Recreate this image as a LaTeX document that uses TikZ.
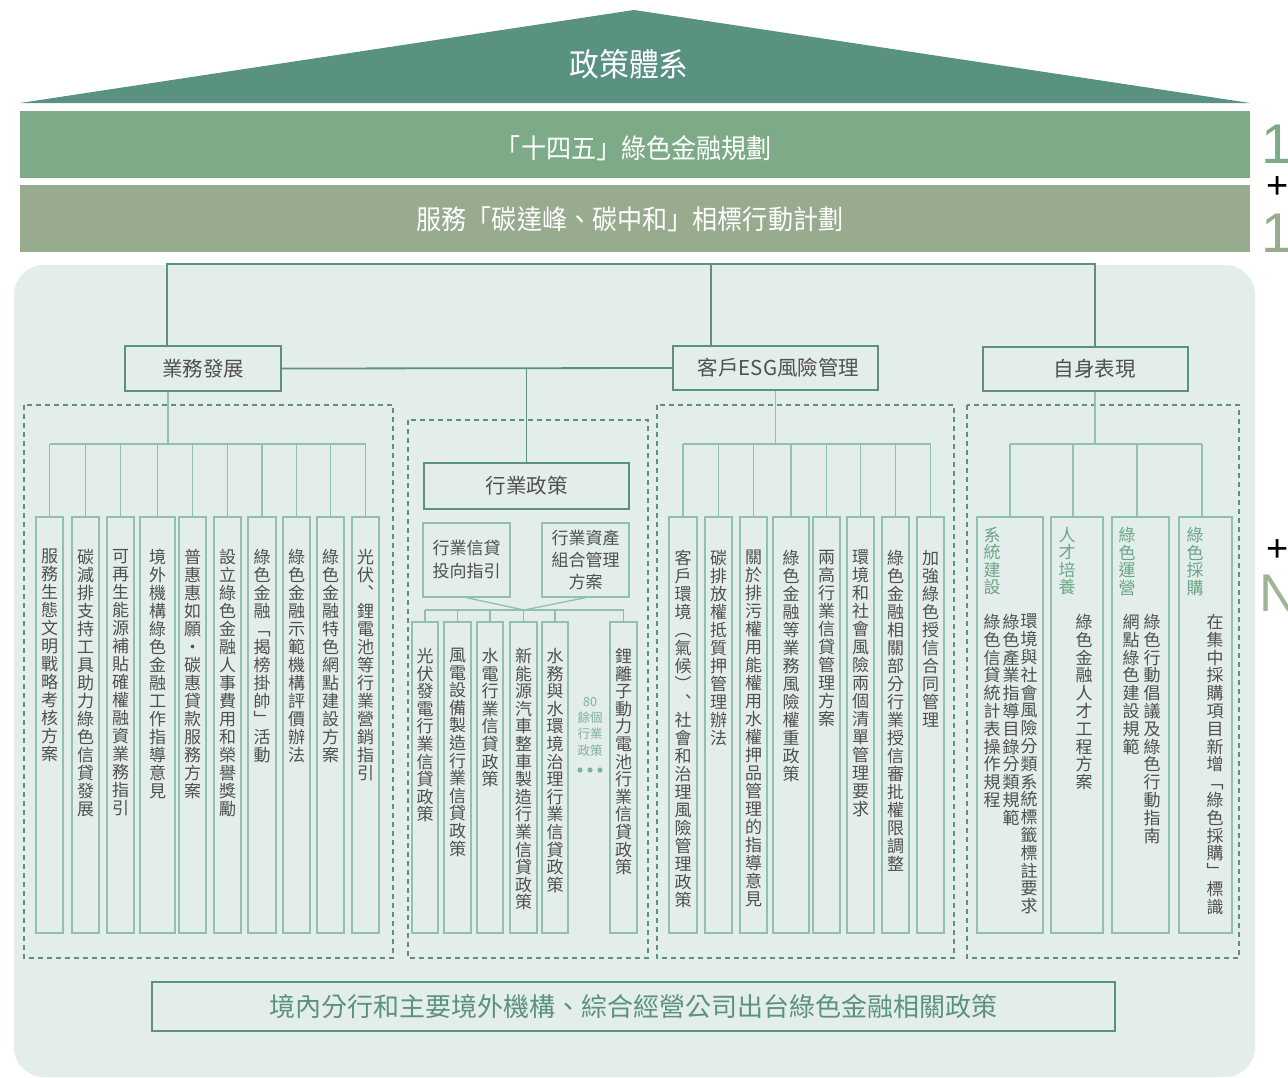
\documentclass[tikz,border=0pt]{standalone}
\usepackage{fontspec}
\setmainfont{Noto Sans CJK TC}
\newfontfamily\cjk{Noto Sans CJK TC}
\newfontfamily\cjkc{Noto Sans CJK TC}[FakeStretch=0.93]
\newfontfamily\numf{Liberation Sans}
\definecolor{roof}{RGB}{90,146,130}
\definecolor{bandA}{RGB}{125,171,135}
\definecolor{bandB}{RGB}{152,171,143}
\definecolor{bgc}{RGB}{227,237,235}
\definecolor{dk}{RGB}{91,145,131}
\definecolor{lt}{RGB}{143,192,176}
\definecolor{txt}{RGB}{80,80,80}
\definecolor{acc}{RGB}{107,165,135}
\definecolor{lacc}{RGB}{125,178,155}
\definecolor{nclr}{RGB}{160,180,150}
\ExplSyntaxOn
\NewDocumentCommand\vt{O{18pt}m}{
  \vbox{\baselineskip=#1\relax\lineskip=0pt\lineskiplimit=-100pt
    \tl_map_inline:nn {#2}{\hbox_to_wd:nn{1em}{\hss##1\hss}}}
}
\ExplSyntaxOff
\newcommand\VB[8][18pt]{%
  \node[subbox, minimum width={(#4-#3)*1pt}, minimum height={(#6-#5)*1pt}] (#2) at ({(#3+#4)/2},{(#5+#6)/2}) {};
  \node[vtxt] (#2t) at ({(#3+#4)/2},#7) {\vt[#1]{#8}};
}
\begin{document}
\begin{tikzpicture}[x=1pt,y=-1pt,
  dkline/.style={draw=dk, line width=1.8pt},
  ltline/.style={draw=lt, line width=1.3pt},
  mainbox/.style={draw=dk, line width=1.8pt, inner sep=0pt, text=txt, font=\cjk\fontsize{20.5}{24}\selectfont},
  subbox/.style={draw=lt, line width=1.3pt, inner sep=0pt},
  vtxt/.style={anchor=north, inner sep=0pt, text=txt, font=\cjk\fontsize{17}{18}\selectfont},
  vtitle/.style={anchor=north, inner sep=0pt, text=acc, font=\cjk\fontsize{17}{18}\selectfont},
  dbox/.style={draw=dk, line width=1.4pt, dash pattern=on 5pt off 4pt},
  bandtxt/.style={text=white, font=\cjkc\fontsize{27}{30}\selectfont, inner sep=0pt},
]
\useasboundingbox (0,0) rectangle (1288,1077);
\clip (0,0) rectangle (1288,1077);
% header
\fill[roof] (20,103) -- (634,10) -- (1250,103) -- cycle;
\node[bandtxt, font=\cjkc\fontsize{32}{34}\selectfont] (title) at (629,64) {政策體系};
\fill[bandA] (20,111) rectangle (1250,178);
\node[bandtxt] (b1) at (634,148) {「十四五」綠色金融規劃};
\fill[bandB] (20,185) rectangle (1250,252);
\node[bandtxt] (b2) at (630,219) {服務「碳達峰、碳中和」相標行動計劃};
% right cut-off labels
\node[anchor=base west, inner sep=0pt, text=bandA, font=\numf\fontsize{56}{56}\selectfont] (one1) at (1261,163) {1};
\node[anchor=base, inner sep=0pt, text=black, font=\numf\fontsize{38}{38}\selectfont] (plus1) at (1278,198) {+};
\node[anchor=base west, inner sep=0pt, text=bandB, font=\numf\fontsize{56}{56}\selectfont] (one2) at (1261,252) {1};
\node[anchor=base, inner sep=0pt, text=black, font=\numf\fontsize{38}{38}\selectfont] (plus2) at (1278,561) {+};
\node[anchor=base west, inner sep=0pt, text=nclr, font=\numf\fontsize{53}{53}\selectfont] (nn) at (1259,611) {N};
% background
\fill[bgc, rounded corners=30pt] (14,265) rectangle (1255,1077);
% main boxes
\node[mainbox, minimum width=156pt, minimum height=45pt] (yw) at (203,368.5) {業務發展};
\node[mainbox, minimum width=205pt, minimum height=44pt] (kh) at (775.5,368) {\hspace*{6pt}客戶ESG風險管理};
\node[mainbox, minimum width=205pt, minimum height=44pt] (zs) at (1085.5,369) {\hspace*{18pt}自身表現};
% top connectors
\coordinate (topL) at (167,264);
\coordinate (topM) at (711,264);
\coordinate (topR) at (1095,264);
\draw[dkline] (topL |- yw.north) -- (topL) -- (topR) -- (topR |- zs.north);
\draw[dkline] (topM) -- (topM |- kh.north);
\draw[dkline] (yw.east) -- (kh.west);
% dashed groups
\draw[dbox] (24,405) rectangle (393,958);
\draw[dbox] (408,420) rectangle (648,958);
\draw[dbox] (657,405) rectangle (954,958);
\draw[dbox] (967,405) rectangle (1239,958);
% ---------- left group
\VB{L1}{36}{63}{517}{933}{549}{服務生態文明戰略考核方案}
\VB{L2}{72}{99}{517}{933}{549}{碳減排支持工具助力綠色信貸發展}
\VB{L3}{107}{134}{517}{933}{549}{可再生能源補貼確權融資業務指引}
\VB{L4}{140}{175}{517}{933}{549}{境外機構綠色金融工作指導意見}
\VB{L5}{179}{206}{517}{933}{549}{普惠惠如願・碳惠貸款服務方案}
\VB{L6}{214}{241}{517}{933}{549}{設立綠色金融人事費用和榮譽獎勵}
\VB{L7}{248}{276}{517}{933}{549}{綠色金融﹁揭榜掛帥﹂活動}
\VB{L8}{283}{310}{517}{933}{549}{綠色金融示範機構評價辦法}
\VB{L9}{317}{344}{517}{933}{549}{綠色金融特色網點建設方案}
\VB{L10}{352}{379}{517}{933}{549}{光伏︑鋰電池等行業營銷指引}
\coordinate (busL) at (168,444);
\draw[ltline] (busL |- yw.south) -- (busL);
\draw[ltline] (L1.north |- busL) -- (L10.north |- busL);
\foreach \n in {L1,L2,L3,L4,L5,L6,L7,L8,L9,L10}
  \draw[ltline] (\n.north) -- (\n.north |- busL);
% ---------- middle group
\node[mainbox, minimum width=205pt, minimum height=46pt] (hy) at (526.5,486) {行業政策};
\draw[dkline] (hy.north |- yw.east) -- (hy.north);
\node[subbox, minimum width=87pt, minimum height=74pt, text=txt, align=center, font=\cjk\fontsize{17}{23}\selectfont] (mz1) at (466.5,560) {行業信貸\\投向指引};
\node[subbox, minimum width=87pt, minimum height=74pt, text=txt, align=center, font=\cjk\fontsize{17}{22}\selectfont] (mz2) at (585.5,560) {行業資產\\組合管理\\方案};
\coordinate (mconv) at (524,610);
\draw[ltline] (mz1.south) -- (mconv) -- (mz2.south);
\VB[17.6pt]{M1}{412}{438}{622}{933}{648}{光伏發電行業信貸政策}
\VB[17.6pt]{M2}{444}{471}{622}{933}{648}{風電設備製造行業信貸政策}
\VB[17.6pt]{M3}{477}{503}{622}{933}{648}{水電行業信貸政策}
\VB[17.6pt]{M4}{510}{537}{622}{933}{648}{新能源汽車整車製造行業信貸政策}
\VB[17.6pt]{M5}{542}{568}{622}{933}{648}{水務與水環境治理行業信貸政策}
\VB[17.6pt]{M6}{610}{637}{622}{933}{648}{鋰離子動力電池行業信貸政策}
\draw[ltline] (M1.north |- mconv) -- (M6.north |- mconv);
\foreach \n in {M1,M2,M3,M4,M5,M6}
  \draw[ltline] (\n.north) -- (\n.north |- mconv);
\node[inner sep=0pt, text=lacc, align=center, font=\cjk\fontsize{12.5}{16.3}\selectfont, anchor=north] (more) at (590,697) {80\\餘個\\行業\\政策};
\foreach \i/\xx in {1/580,2/590,3/600}
  \fill[lacc] (\xx,770) circle (2.6pt);
% ---------- third group
\VB{C1}{669}{697}{517}{933}{550}{客戶環境︵氣候︶︑社會和治理風險管理政策}
\VB{C2}{705}{732}{517}{933}{550}{碳排放權抵質押管理辦法}
\VB{C3}{740}{767}{517}{933}{550}{關於排污權用能權用水權押品管理的指導意見}
\VB{C4}{773}{809}{517}{933}{550}{綠色金融等業務風險權重政策}
\VB{C5}{813}{840}{517}{933}{550}{兩高行業信貸管理方案}
\VB{C6}{847}{874}{517}{933}{550}{環境和社會風險兩個清單管理要求}
\VB{C7}{882}{909}{517}{933}{550}{綠色金融相關部分行業授信審批權限調整}
\VB{C8}{917}{944}{517}{933}{550}{加強綠色授信合同管理}
\coordinate (busC) at (kh.south |- 0,444);
\draw[ltline] (kh.south) -- (busC);
\draw[ltline] (C1.north |- busC) -- (C8.north |- busC);
\foreach \n in {C1,C2,C3,C4,C5,C6,C7,C8}
  \draw[ltline] (\n.north) -- (\n.north |- busC);
% ---------- fourth group
\node[subbox, minimum width=66pt, minimum height=416pt] (R1) at (1010,725) {};
\node[subbox, minimum width=52pt, minimum height=416pt] (R2) at (1077,725) {};
\node[subbox, minimum width=57pt, minimum height=416pt] (R3) at (1140.5,725) {};
\node[subbox, minimum width=53pt, minimum height=416pt] (R4) at (1205.5,725) {};
\node[vtitle] (R1h) at (992,527) {\vt[17.5pt]{系統建設}};
\node[vtitle] (R2h) at (1067,527) {\vt[17.5pt]{人才培養}};
\node[vtitle] (R3h) at (1127,527) {\vt[17.5pt]{綠色運營}};
\node[vtitle] (R4h) at (1195,527) {\vt[17.5pt]{綠色採購}};
\node[vtxt] (R1a) at (1029,614) {\vt[17.8pt]{環境與社會風險分類系統標籤標註要求}};
\node[vtxt] (R1b) at (1011,614) {\vt[17.8pt]{綠色產業指導目錄分類規範}};
\node[vtxt] (R1c) at (992,614) {\vt[17.8pt]{綠色信貸統計表操作規程}};
\node[vtxt] (R2a) at (1084,614) {\vt[17.8pt]{綠色金融人才工程方案}};
\node[vtxt] (R3a) at (1152,614) {\vt[17.8pt]{綠色行動倡議及綠色行動指南}};
\node[vtxt] (R3b) at (1131,614) {\vt[17.8pt]{網點綠色建設規範}};
\node[vtxt] (R4a) at (1215,614) {\vt[17.8pt]{在集中採購項目新增﹁綠色採購﹂標識}};
\coordinate (busR) at (1095,444);
\draw[ltline] (busR |- zs.south) -- (busR);
\draw[ltline] (1010,444) -- (1202,444);
\draw[ltline] (R1.north -| 1010,0) -- (1010,444);
\draw[ltline] (R2.north -| 1073,0) -- (1073,444);
\draw[ltline] (R3.north -| 1137,0) -- (1137,444);
\draw[ltline] (R4.north -| 1202,0) -- (1202,444);
% bottom box
\node[draw=dk, line width=1.8pt, minimum width=963pt, minimum height=49pt, inner sep=0pt, text=dk, font=\cjk\fontsize{26}{30}\selectfont] (bot) at (633.5,1006.5) {境內分行和主要境外機構、綜合經營公司出台綠色金融相關政策};
\end{tikzpicture}
\end{document}
